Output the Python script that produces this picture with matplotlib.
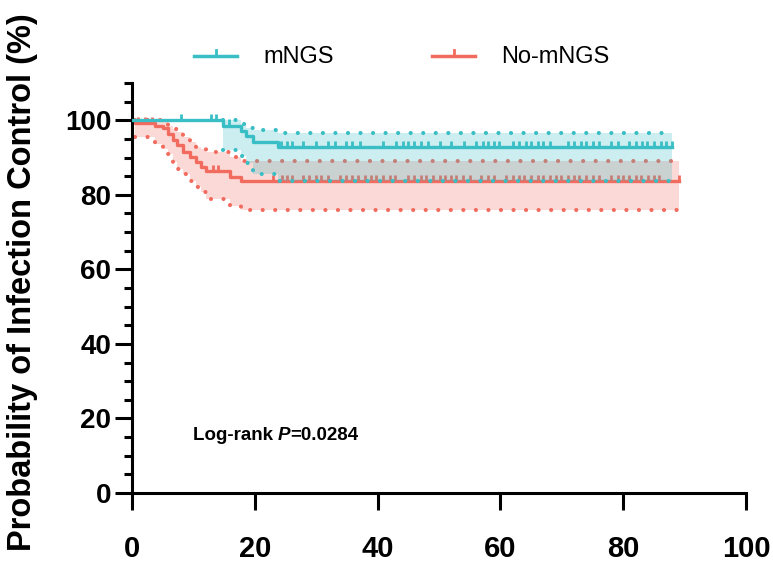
import numpy as np
import matplotlib
matplotlib.use('Agg')
import matplotlib.pyplot as plt
from matplotlib.lines import Line2D
from matplotlib.ticker import MultipleLocator

plt.rcParams['font.family'] = ['Liberation Sans', 'DejaVu Sans']

# %% data (time, survival %)
teal = '#38BEC4'
red = '#F26B5F'

# mNGS group
mngs_t = [0, 14.8, 17.8, 18.6, 19.7, 23.8]
mngs_s = [100, 98.6, 97.2, 95.8, 94.3, 92.8]
mngs_up = [100, 100, 98.9, 97.8, 97.3, 96.7]
mngs_lo = [100, 92.0, 90.3, 88.5, 85.6, 83.8]
mngs_end = 88.0
mngs_cens = [8.0, 12.8, 13.7, 15.8, 24.3, 25.2, 26.0,
             27.9, 30.0, 31.9, 33.0, 34.9, 35.9, 37.1, 40.9, 43.0, 44.1, 44.9,
             46.0, 47.1, 48.2, 50.1, 52.0, 54.1, 56.0, 57.1, 57.9, 59.0, 59.8,
             62.0, 63.1, 64.1, 65.0, 66.1, 67.0, 68.0, 71.0, 72.0, 73.1, 74.0,
             75.0, 76.1, 78.0, 79.1, 81.0, 82.1, 83.1, 83.9, 85.0, 86.1, 86.9, 88.0]

# No-mNGS group
nomngs_t = [0, 0.5, 3.7, 5.1, 5.9, 6.7, 7.3, 8.3, 9.4, 10.5, 11.3, 12.1, 15.9, 17.8]
nomngs_s = [100, 99.3, 98.6, 97.8, 96.4, 94.6, 93.3, 91.5, 90.1, 88.8, 87.4, 86.3, 84.7, 83.6]
nomngs_up = [100, 100, 100, 99.6, 98.6, 97.6, 96.8, 95.5, 94.3, 92.9, 92.2, 91.5, 90.1, 89.0]
nomngs_lo = [100, 95.5, 93.7, 92.3, 91.0, 88.8, 87.0, 85.6, 83.8, 82.0, 80.7, 78.9, 77.1, 76.0]
nomngs_end = 89.1
nomngs_cens = [1.0, 2.1, 3.3, 13.2, 14.0, 22.9, 24.4, 25.2, 26.0,
               27.9, 28.9, 30.0, 30.8, 31.9, 33.8, 34.9, 35.9, 36.8, 37.9, 39.0,
               39.8, 40.9, 42.0, 42.8, 44.9, 46.0, 47.1, 47.9, 49.0, 50.1, 50.9,
               52.0, 52.8, 53.9, 55.0, 56.9, 57.9, 59.0, 60.9, 62.0, 63.1, 63.9,
               65.0, 66.1, 66.9, 68.0, 69.1, 69.9, 71.0, 72.0, 72.8, 73.9, 75.0,
               76.1, 78.0, 79.1, 79.9, 81.0, 82.1, 82.9, 84.0, 85.0, 85.9, 89.1]

labels = ['mNGS', 'No-mNGS']
x_ticks = [0, 20, 40, 60, 80, 100]
y_ticks = [0, 20, 40, 60, 80, 100]
p_text = '=0.0284'


def step_value(t, times, vals):
    ix = np.searchsorted(times, t, side='right') - 1
    return np.array(vals)[ix]


def draw_group(ax, times, surv, up, lo, end, cens, color, z):
    x = np.append(times, end)
    s = np.append(surv, surv[-1])
    u = np.append(up, up[-1])
    l = np.append(lo, lo[-1])
    # CI band starts at first event
    ax.fill_between(x[1:], l[1:], u[1:], step='post', color=color, alpha=0.25,
                    lw=0, zorder=z)
    dots = dict(color=color, lw=3, linestyle=(0, (0.01, 3)),
                dash_capstyle='round', zorder=z + 1)
    ax.step(x[1:], u[1:], where='post', **dots)
    ax.step(x[1:], l[1:], where='post', **dots)
    ax.step(x, s, where='post', color=color, lw=2.4, zorder=z + 1)
    cy = step_value(cens, times, surv)
    ax.vlines(cens, cy, cy + 1.7, color=color, lw=2.0, zorder=z + 1)


# %% plot
fig = plt.figure(figsize=(7.73, 5.71), dpi=100)
ax = fig.add_axes([0.1708, 0.1366, 0.7943, 0.718])

draw_group(ax, nomngs_t, nomngs_s, nomngs_up, nomngs_lo, nomngs_end, nomngs_cens, red, 1)
draw_group(ax, mngs_t, mngs_s, mngs_up, mngs_lo, mngs_end, mngs_cens, teal, 3)

ax.set_xlim(0, 100)
ax.set_ylim(0, 110)
ax.set_xticks(x_ticks)
ax.set_yticks(y_ticks)
ax.yaxis.set_minor_locator(MultipleLocator(5))
for sp in ['top', 'right']:
    ax.spines[sp].set_visible(False)
for sp in ['left', 'bottom']:
    ax.spines[sp].set_linewidth(2.2)
ax.tick_params(axis='both', which='major', length=12, width=2.2)
ax.tick_params(axis='y', which='minor', length=6, width=2.2)
ax.tick_params(axis='y', labelsize=20, pad=3)
ax.tick_params(axis='x', labelsize=21, pad=18)
for lab in ax.get_xticklabels() + ax.get_yticklabels():
    lab.set_fontweight('bold')

ax.set_ylabel('Probability of Infection Control (%)', fontsize=23.5,
              fontweight='bold', labelpad=4)
ax.yaxis.set_label_coords(-0.153, 0.515)

# log-rank annotation
t1 = ax.text(9.9, 15.4, 'Log-rank ', fontsize=13.5, fontweight='bold',
             va='center', ha='left')
t2 = ax.annotate('P', xy=(1, 0), xycoords=t1, va='bottom', ha='left',
                 fontsize=13.5, fontweight='bold', fontstyle='italic')
ax.annotate(p_text, xy=(1, 0), xycoords=t2, va='bottom', ha='left',
            fontsize=13.5, fontweight='bold')

# legend drawn at the top
W, H = 773, 571
for (x0, x1, xt), name, col in zip([(194, 237, 263), (432, 475, 501)], labels, [teal, red]):
    yy = 1 - 56 / H
    fig.add_artist(Line2D([x0 / W, x1 / W], [yy, yy], color=col, lw=2.5,
                          transform=fig.transFigure))
    xm = (x0 + x1) / 2 / W
    fig.add_artist(Line2D([xm, xm], [yy, yy + 6 / H], color=col, lw=2.0,
                          transform=fig.transFigure))
    fig.text(xt / W, 1 - 57 / H, name, fontsize=17, va='center', ha='left')

fig.savefig('out.png', dpi=100)
